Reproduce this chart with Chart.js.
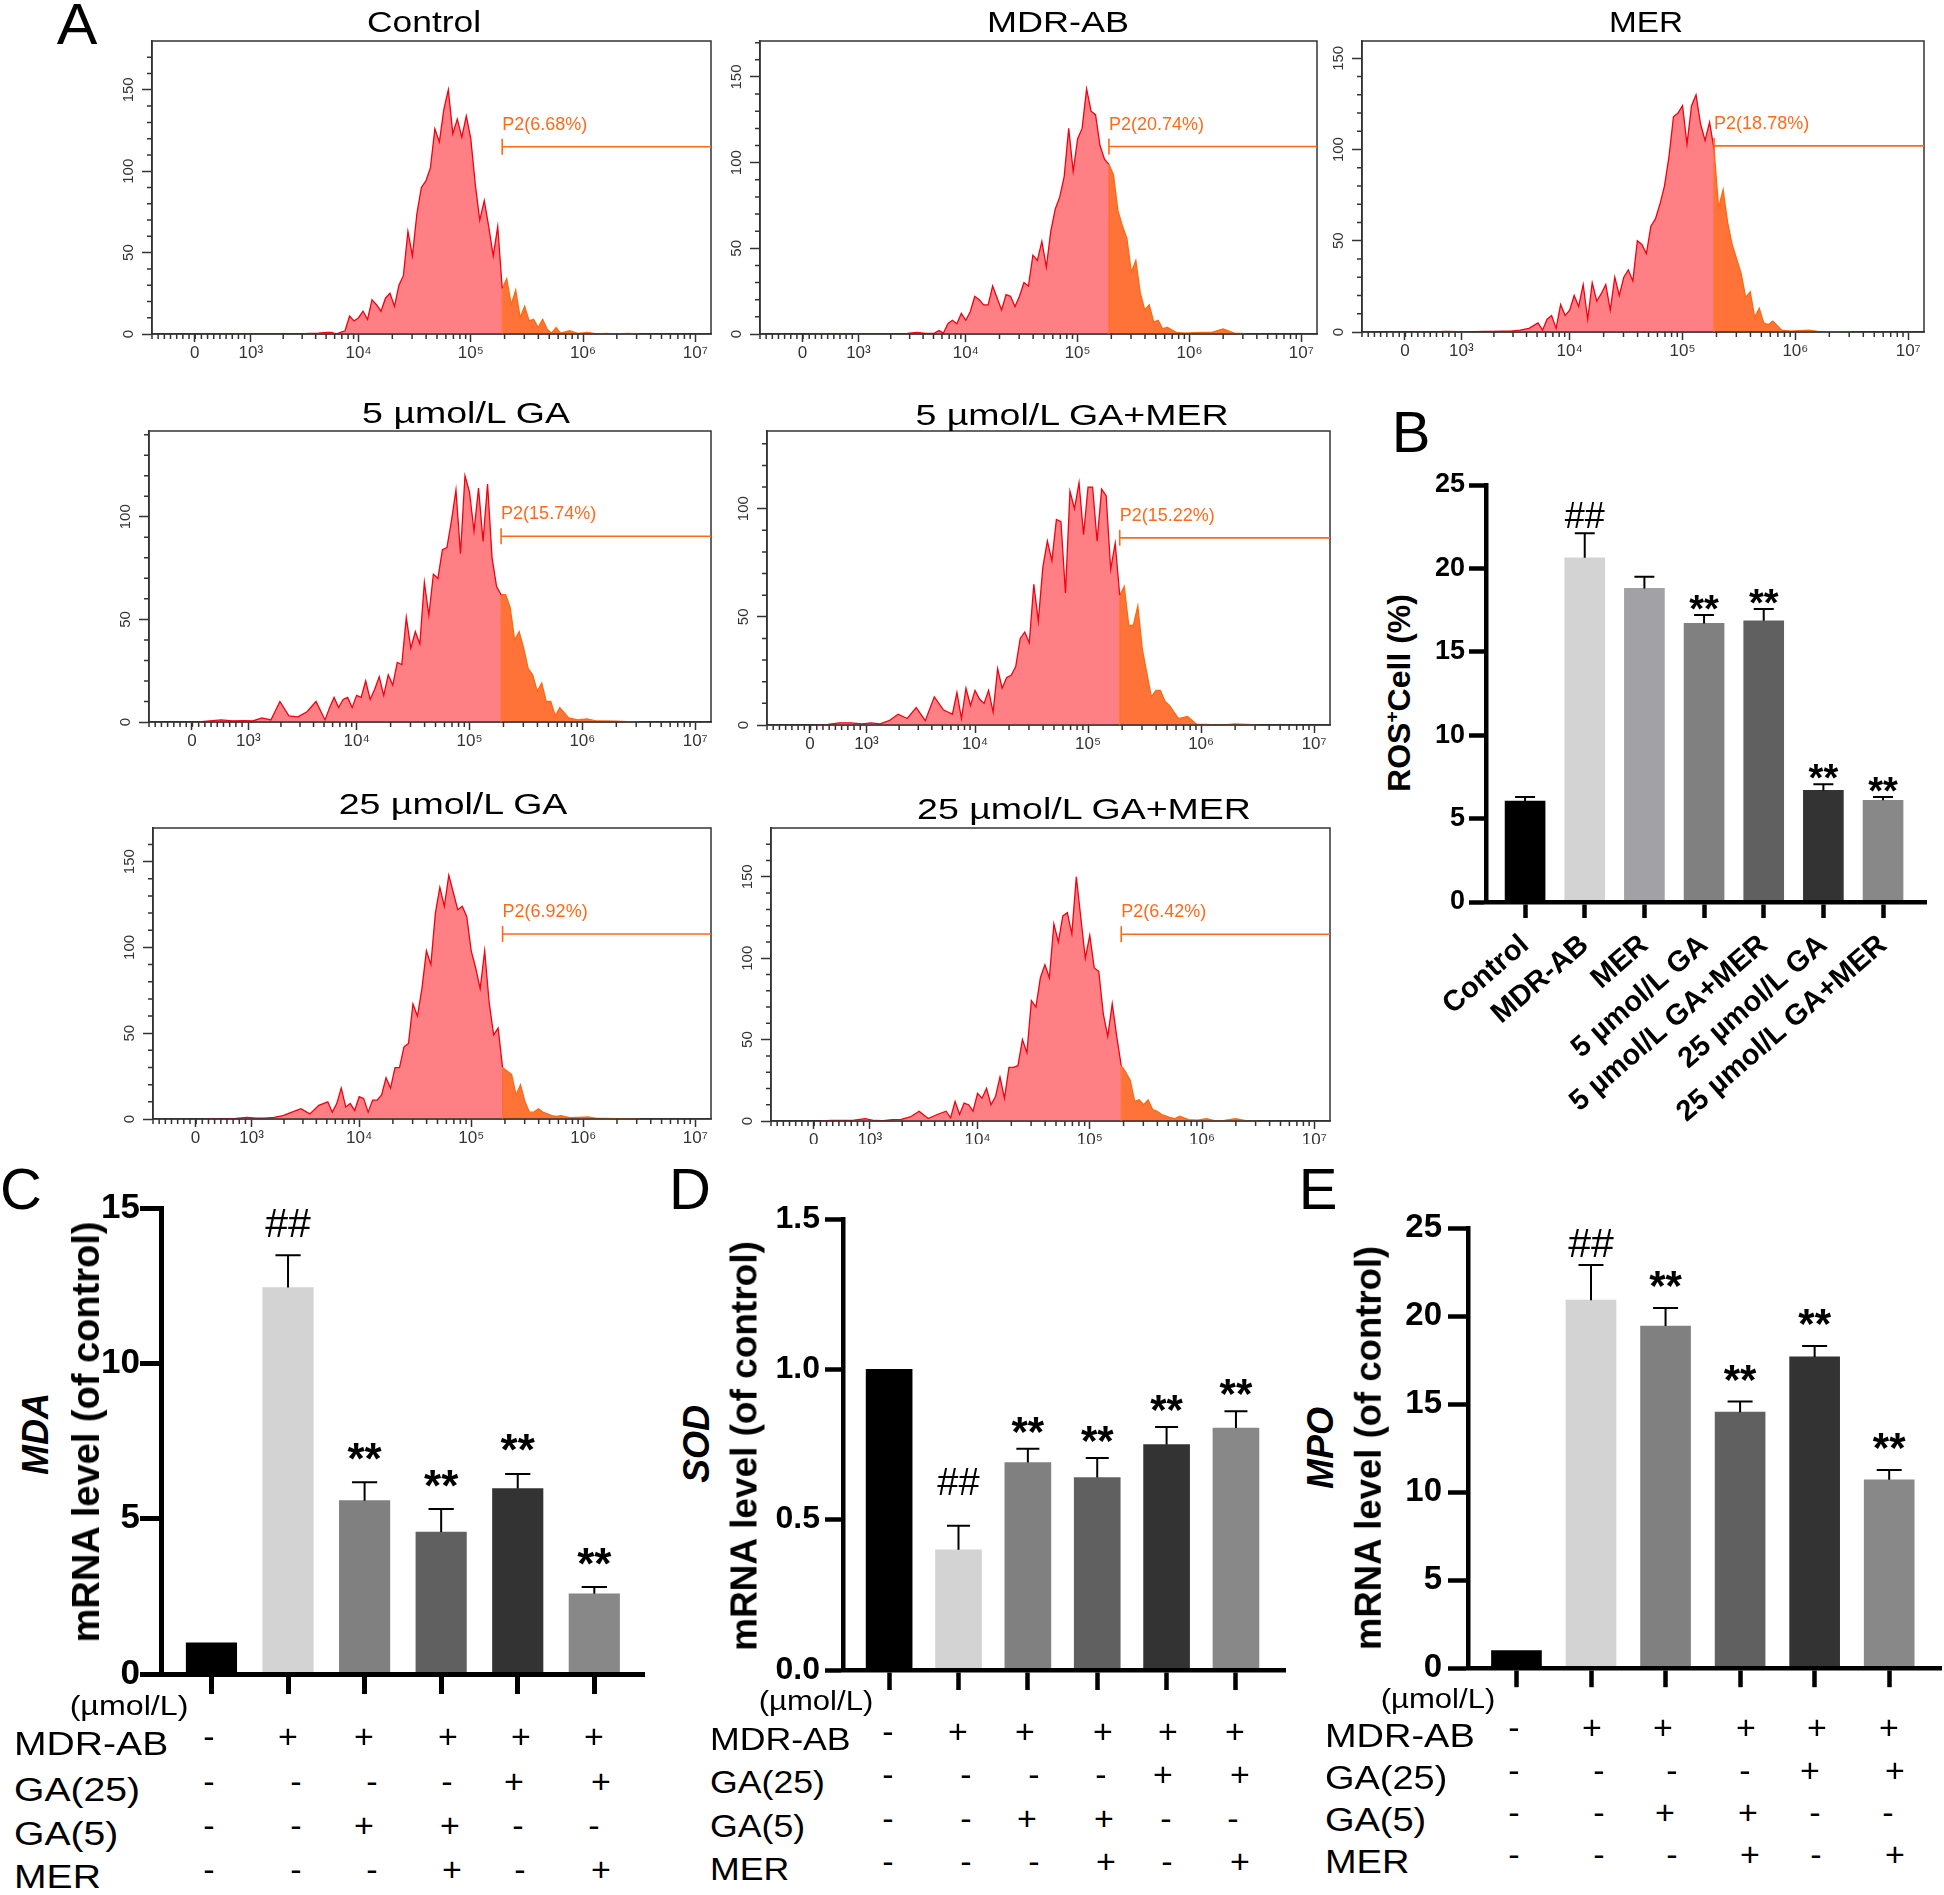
<!DOCTYPE html>
<html>
<head>
<meta charset="utf-8">
<title>ROS and mRNA levels</title>
<script src="https://cdn.jsdelivr.net/npm/chart.js@4"></script>
<style>
  html, body { margin: 0; padding: 0; background: #fff; }
  #page { position: relative; width: 1944px; height: 1895px; overflow: hidden; background: #fff; }
  #page canvas { position: absolute; }
  .txt { position: absolute; white-space: nowrap; line-height: 1; color: #000; font-family: "Liberation Sans", Arial, sans-serif; }
  .txt sup { font-size: 60%; line-height: 0; }
</style>
</head>
<body>
<div id="page"></div>
<script>
// flow cytometry channels, position in decades on the biexponential axis
var logBins = [2.6,2.7,2.8,2.9,3.0,3.08,3.16,3.24,3.32,3.4,3.48,3.56,3.64,3.72,
  3.76,3.8,3.84,3.88,3.92,3.96,
  4.0,4.04,4.08,4.12,4.16,4.2,4.24,4.28,4.32,4.36,
  4.4,4.44,4.48,4.52,4.56,4.6,4.64,4.68,4.72,4.76,
  4.8,4.84,4.88,4.92,4.96,5.0,5.04,5.08,5.12,5.16,
  5.2,5.24,5.28,5.32,5.36,5.4,5.44,5.48,5.52,5.56,
  5.6,5.64,5.68,5.72,5.76,5.8,
  5.88,5.96,6.04,6.12,6.2,6.3,6.4,6.5];

var controlCounts = [0,0,0,0,0,0,0,0,0,0,0,0.3,0.5,1,
  1,0,1,2,11,8,
  10,14,9,21,18,14,22,25,17,30,
  36,63,48,74,90,94,102,126,118,138,
  150,123,132,121,134,120,92,70,82,66,
  48,66,28,34,18,27,10,17,8,9,
  4,9,3,0.5,4,0.5,
  2,0.3,1,0,0.3,0,0.3,0];
var mdrCounts = [0,0,0,0,0,0,0,0,0,0,0.3,1,0.3,0.5,
  2,0.5,6,8,6,12,
  8,13,22,20,17,17,28,21,14,23,
  22,16,22,30,28,46,43,54,39,60,
  73,80,92,120,95,114,120,143,130,128,
  110,102,99,93,72,63,56,36,43,24,
  14,17,7,8,3,4,
  1,0.5,0.8,1,1,3,0.5,0.2];
var merCounts = [0,0,0,0.3,0.2,0,0.2,0.3,0.3,0.5,0.5,1,2,5,
  1,7,9,2,15,9,
  12,20,14,26,7,27,17,21,26,12,
  30,20,30,34,28,50,48,43,58,62,
  70,80,96,118,120,124,103,124,130,114,
  105,115,100,68,78,60,48,40,32,19,
  22,8,13,5,4,6,
  1,0.5,0.8,1,0.3,0.2,0.2,0.1];
var ga5Counts = [0,0.5,1,0.5,0.7,0.5,2,1,10,3,2.5,5,10,1,
  7,12,7,11,12,7,
  13,12,20,11,16,22,13,23,18,29,
  28,51,36,44,38,68,52,72,70,84,
  85,98,113,82,120,112,93,114,88,116,
  80,66,62,62,56,40,44,36,26,23,
  15,19,10,10,3,7,
  2,1,1.5,0.5,0.5,0.4,0.2,0.1];
var ga5MerCounts = [0,0.3,1,1,0.5,1,0.5,2,5,3,8,2,13,7,
  6,5,15,3,17,9,
  16,12,10,16,6,26,17,22,23,27,
  40,43,38,65,48,73,85,76,95,94,
  61,108,100,112,88,110,110,85,109,106,
  72,84,60,64,46,46,55,35,24,13,
  16,16,11,9,6,3,
  4,0.3,0.3,0,0,0.5,0.3,0];
var ga25Counts = [0,0,0,0.3,1,0.5,0.5,1,2,4,6,3,8,10,
  4,9,18,7,9,5,
  13,12,4,11,11,14,24,18,30,30,
  42,44,67,60,76,98,90,120,135,124,
  142,132,122,124,118,98,88,76,98,68,
  49,53,30,28,26,14,20,10,4,4,
  6,4,3,2,1.5,2,
  0.8,1,1.2,0.3,0.3,0.2,0.2,0.1];
var ga25MerCounts = [0,0.3,0.3,0.5,1.5,0.3,0.2,0.8,1,2.5,6,1.5,4,6,
  2,12,4,11,10,6,
  17,14,20,10,15,27,14,33,33,34,
  50,42,74,70,88,96,88,121,110,126,
  128,115,150,125,100,114,94,92,66,52,
  72,52,34,30,25,12,13,10,13,7,
  6,4,3,2,1.5,3,
  0.8,0.5,1.5,0,0.3,1.5,0,0];

var histTitles = ["Control", "MDR-AB", "MER", "5 µmol/L GA", "5 µmol/L GA+MER", "25 µmol/L GA", "25 µmol/L GA+MER"];
var histCounts = [controlCounts, mdrCounts, merCounts, ga5Counts, ga5MerCounts, ga25Counts, ga25MerCounts];
var gateLabels = ["P2(6.68%)", "P2(20.74%)", "P2(18.78%)", "P2(15.74%)", "P2(15.22%)", "P2(6.92%)", "P2(6.42%)"];
var gateHeights = [115, 109.4, 102, 90.5, 86.5, 107.8, 114.7];
var histYMax = [180, 171, 159.5, 141.8, 135.9, 169.6, 180];
var histYTicks = [[0,50,100,150], [0,50,100,150], [0,50,100,150], [0,50,100], [0,50,100], [0,50,100,150], [0,50,100,150]];
var xTickValues = [2.54, 3.04, 4, 5, 6, 7];
var xTickLabels = ["0", "10³", "10⁴", "10⁵", "10⁶", "10⁷"];
var gateDecade = 5.28;

// bar panels
var rosLabels = ["Control", "MDR-AB", "MER", "5 µmol/L GA", "5 µmol/L GA+MER", "25 µmol/L GA", "25 µmol/L GA+MER"];
var rosValues = [6.05, 20.64, 18.8, 16.7, 16.86, 6.69, 6.1];
var rosErrors = [0.25, 1.46, 0.7, 0.5, 0.7, 0.37, 0.2];
var rosMarks = ["", "##", "", "**", "**", "**", "**"];
var rosColors = ["#000000", "#d3d3d3", "#a1a1a6", "#808080", "#606060", "#333333", "#888888"];

var mdaValues = [1, 12.44, 5.58, 4.57, 5.97, 2.58];
var mdaErrors = [0, 1.04, 0.59, 0.74, 0.47, 0.22];
var sodValues = [1, 0.4, 0.69, 0.64, 0.75, 0.805];
var sodErrors = [0, 0.08, 0.046, 0.065, 0.058, 0.056];
var mpoValues = [1, 20.9, 19.43, 14.54, 17.68, 10.7];
var mpoErrors = [0, 2.0, 1.02, 0.61, 0.62, 0.56];
var mrnaMarks = ["", "##", "**", "**", "**", "**"];
var mrnaColors = ["#000000", "#d3d3d3", "#808080", "#606060", "#333333", "#888888"];

// treatment table under panels C, D, E
var rowNames = ["MDR-AB", "GA(25)", "GA(5)", "MER"];
var mdrRow = ["-", "+", "+", "+", "+", "+"];
var ga25Row = ["-", "-", "-", "-", "+", "+"];
var ga5Row = ["-", "-", "+", "+", "-", "-"];
var merRow = ["-", "-", "-", "+", "-", "+"];
var treatmentRows = [mdrRow, ga25Row, ga5Row, merRow];

var FONT = '"Liberation Sans", Arial, sans-serif';
var page = document.getElementById("page");

function putText(html, x, y, size, opts) {
  opts = opts || {};
  var d = document.createElement("div");
  d.className = "txt";
  d.innerHTML = html;
  d.style.left = x + "px";
  d.style.top = y + "px";
  d.style.fontSize = size + "px";
  if (opts.weight) d.style.fontWeight = opts.weight;
  if (opts.italic) d.style.fontStyle = "italic";
  var tx = opts.left ? "translate(0,-50%)" : "translate(-50%,-50%)";
  d.style.transformOrigin = opts.left ? "0 50%" : "50% 50%";
  d.style.transform = tx + (opts.rotate ? " rotate(" + opts.rotate + "deg)" : "") + " scaleX(" + (opts.sx || 1) + ")";
  page.appendChild(d);
}

function addCanvas(left, top, w, h) {
  var c = document.createElement("canvas");
  c.width = w;
  c.height = h;
  c.style.left = left + "px";
  c.style.top = top + "px";
  c.style.width = w + "px";
  c.style.height = h + "px";
  page.appendChild(c);
  return c.getContext("2d");
}

// log spaced minor ticks, plus the linear part below 10^3
var minorX = [];
for (var t = 2.16; t < 3.04; t += 0.055) minorX.push(t);
[3, 4, 5, 6].forEach(function(d) {
  for (var k = 2; k < 10; k++) {
    if (d === 3) minorX.push(3.04 + Math.log10(k) * 0.96);
    else minorX.push(d + Math.log10(k));
  }
});

var flowPlugin = {
  id: "flowPlugin",
  afterDraw: function(chart, args, o) {
    var ctx = chart.ctx, a = chart.chartArea;
    var xs = chart.scales.x, ys = chart.scales.y;
    ctx.save();
    ctx.strokeStyle = "#333";
    ctx.lineWidth = 1.5;
    ctx.strokeRect(a.left, a.top, a.right - a.left, a.bottom - a.top);
    ctx.beginPath();
    minorX.forEach(function(v) {
      var px = xs.getPixelForValue(v);
      ctx.moveTo(px, a.bottom);
      ctx.lineTo(px, a.bottom + 5);
    });
    for (var v = 10; v < ys.max; v += 10) {
      if (v % 50 === 0) continue;
      var py = ys.getPixelForValue(v);
      ctx.moveTo(a.left, py);
      ctx.lineTo(a.left - 5, py);
    }
    ctx.stroke();
    // P2 gate
    var gx = xs.getPixelForValue(gateDecade);
    var gy = ys.getPixelForValue(o.height);
    ctx.strokeStyle = "#ff6a1a";
    ctx.lineWidth = 1.6;
    ctx.beginPath();
    ctx.moveTo(gx, gy);
    ctx.lineTo(a.right, gy);
    ctx.moveTo(gx, gy - 8);
    ctx.lineTo(gx, gy + 8);
    ctx.stroke();
    ctx.lineWidth = 1;
    ctx.beginPath();
    ctx.moveTo(gx, a.bottom);
    ctx.lineTo(gx, ys.getPixelForValue(o.atGate));
    ctx.stroke();
    ctx.fillStyle = "#ff6a1a";
    ctx.font = "18px " + FONT;
    ctx.textBaseline = "alphabetic";
    ctx.fillText(o.label, gx, gy - 17);
    ctx.restore();
  }
};

function drawHist(i, box, bottomH) {
  var left = box[0] - 45, top = box[2] - 20;
  var ctx = addCanvas(left, top, box[1] + 15 - left, box[3] + bottomH - top);
  var counts = histCounts[i];
  var points = logBins.map(function(b, k) { return { x: b, y: counts[k] }; });
  new Chart(ctx, {
    type: "line",
    data: {
      datasets: [
        {
          data: points.filter(function(p) { return p.x <= gateDecade; }),
          borderColor: "#f5000f",
          backgroundColor: "#ff8084",
          borderWidth: 1.3,
          pointRadius: 0,
          fill: "origin"
        },
        {
          data: points.filter(function(p) { return p.x >= gateDecade; }),
          borderColor: "#ff6a0d",
          backgroundColor: "#ff7238",
          borderWidth: 1.3,
          pointRadius: 0,
          fill: "origin"
        }
      ]
    },
    options: {
      responsive: false,
      animation: false,
      layout: { padding: { top: 20, right: 15 } },
      plugins: {
        legend: { display: false },
        tooltip: { enabled: false },
        flowPlugin: {
          height: gateHeights[i],
          label: gateLabels[i],
          atGate: counts[logBins.indexOf(gateDecade)]
        }
      },
      scales: {
        x: {
          type: "linear",
          min: 2.16,
          max: 7.14,
          afterFit: function(s) { s.height = bottomH; },
          afterBuildTicks: function(s) {
            s.ticks = xTickValues.map(function(v) { return { value: v }; });
          },
          border: { color: "#333", width: 1.5 },
          grid: { drawOnChartArea: false, tickLength: 8, tickColor: "#333", tickWidth: 1.5 },
          ticks: {
            autoSkip: false,
            maxRotation: 0,
            padding: 1,
            color: "#333",
            font: { family: FONT, size: 17 },
            callback: function(v, k) { return xTickLabels[k]; }
          }
        },
        y: {
          min: 0,
          max: histYMax[i],
          afterFit: function(s) { s.width = 45; },
          afterBuildTicks: function(s) {
            s.ticks = histYTicks[i].map(function(v) { return { value: v }; });
          },
          border: { color: "#333", width: 1.5 },
          grid: { drawOnChartArea: false, tickLength: 10, tickColor: "#333", tickWidth: 1.5 },
          ticks: {
            autoSkip: false,
            minRotation: 90,
            maxRotation: 90,
            crossAlign: "center",
            padding: 1,
            color: "#333",
            font: { family: FONT, size: 15 }
          }
        }
      }
    },
    plugins: [flowPlugin]
  });
}

var errorPlugin = {
  id: "errorPlugin",
  afterDatasetsDraw: function(chart, args, o) {
    var ctx = chart.ctx, ys = chart.scales.y;
    var bars = chart.getDatasetMeta(0).data;
    ctx.save();
    ctx.strokeStyle = "#000";
    ctx.fillStyle = "#000";
    ctx.lineWidth = 2;
    ctx.textAlign = "center";
    ctx.textBaseline = "alphabetic";
    bars.forEach(function(bar, k) {
      var topV = o.values[k] + o.errors[k];
      var py = ys.getPixelForValue(topV);
      if (o.errors[k] > 0) {
        ctx.beginPath();
        ctx.moveTo(bar.x, ys.getPixelForValue(o.values[k]));
        ctx.lineTo(bar.x, py);
        ctx.moveTo(bar.x - o.cap, py);
        ctx.lineTo(bar.x + o.cap, py);
        ctx.stroke();
      }
      if (o.marks[k] === "##") {
        ctx.font = o.hashSize + "px " + FONT;
        ctx.fillText("##", bar.x, py - o.hashGap + o.hashSize * 0.36);
      } else if (o.marks[k] === "**") {
        ctx.font = "bold " + o.starSize + "px " + FONT;
        ctx.fillText("**", bar.x, py - o.starGap + o.starSize * 0.58);
      }
    });
    ctx.restore();
  }
};

function drawBars(p) {
  var left = p.axisX - p.leftW, top = p.top - 30;
  var ctx = addCanvas(left, top, p.right + p.padR - left, p.base + p.bottomH - top);
  new Chart(ctx, {
    type: "bar",
    data: {
      datasets: [{
        data: p.values.map(function(v, k) { return { x: k, y: v }; }),
        backgroundColor: p.colors,
        barThickness: p.barW
      }]
    },
    options: {
      responsive: false,
      animation: false,
      layout: { padding: { top: 30, right: p.padR } },
      plugins: {
        legend: { display: false },
        tooltip: { enabled: false },
        errorPlugin: {
          values: p.values, errors: p.errors, marks: p.marks, cap: p.barW / 4,
          hashSize: p.hashSize, starSize: p.starSize, hashGap: p.hashGap, starGap: p.starGap
        }
      },
      scales: {
        x: {
          type: "linear",
          offset: false,
          min: p.xMin,
          max: p.xMax,
          afterFit: function(s) { s.height = p.bottomH; },
          afterBuildTicks: function(s) {
            s.ticks = p.values.map(function(v, k) { return { value: k }; });
          },
          border: { color: "#000", width: p.axisW, z: 2 },
          grid: { offset: false, drawOnChartArea: false, tickLength: p.tickX, tickColor: "#000", tickWidth: p.axisW, z: 1 },
          ticks: {
            display: !!p.labels,
            autoSkip: false,
            minRotation: p.labels ? 41 : 0,
            maxRotation: p.labels ? 41 : 0,
            padding: 10,
            color: "#000",
            font: { family: FONT, size: 29, weight: "bold" },
            callback: function(v, k) { return p.labels ? p.labels[k] : ""; }
          }
        },
        y: {
          min: 0,
          max: p.yMax,
          afterFit: function(s) { s.width = p.leftW; },
          afterBuildTicks: function(s) {
            var list = [];
            for (var k = 0; k <= p.yTickCount; k++) list.push({ value: k * p.yMax / p.yTickCount });
            s.ticks = list;
          },
          border: { color: "#000", width: p.axisW, z: 2 },
          grid: { drawOnChartArea: false, tickLength: p.tickY, tickColor: "#000", tickWidth: p.axisW, z: 1 },
          ticks: {
            autoSkip: false,
            padding: p.tickPad,
            color: "#000",
            font: { family: FONT, size: p.tickSize, weight: "bold" },
            callback: function(v) { return p.yDigits ? v.toFixed(p.yDigits) : String(v); }
          }
        }
      }
    },
    plugins: [errorPlugin]
  });
}

function drawTable(labelX, labelYs, labelSize, unitX, unitY, unitSize, signXs, signYs) {
  putText("(µmol/L)", unitX, unitY, unitSize, { sx: 1.15 });
  rowNames.forEach(function(name, r) {
    putText(name, labelX, labelYs[r], labelSize, { left: true, sx: 1.15 });
    treatmentRows[r].forEach(function(sign, c) {
      putText(sign, signXs[r][c], signYs[r], 34);
    });
  });
}

// panel A
var histBoxes = [
  [152, 711, 41, 334], [760, 1317, 41, 334], [1362, 1924, 41, 332],
  [149, 711, 431, 722], [767, 1330, 431, 725],
  [153, 711, 828, 1119], [771, 1330, 828, 1121]
];
var histBottoms = [30, 30, 30, 30, 30, 30, 23];
histBoxes.forEach(function(box, i) { drawHist(i, box, histBottoms[i]); });

var titleSpots = [[424, 22, 1.18], [1058, 22, 1.2], [1646, 22, 1.11], [466, 413, 1.25], [1072, 415, 1.25], [453, 804, 1.25], [1084, 809, 1.25]];
histTitles.forEach(function(t, i) {
  putText(t, titleSpots[i][0], titleSpots[i][1], 30, { sx: titleSpots[i][2] });
});

// panel B
drawBars({
  values: rosValues, errors: rosErrors, marks: rosMarks, colors: rosColors, labels: rosLabels,
  axisX: 1486, right: 1926, top: 485, base: 902, leftW: 66, bottomH: 268, padR: 18,
  xMin: -0.655, xMax: 6.72, barW: 40, axisW: 4.5, tickX: 16, tickY: 17,
  yMax: 25, yTickCount: 5, tickSize: 27, tickPad: 4,
  hashSize: 36, starSize: 38, hashGap: 18, starGap: 15
});
putText("ROS<sup>+</sup>Cell (%)", 1399, 693, 32, { rotate: -90, weight: "bold" });

// panel C
drawBars({
  values: mdaValues, errors: mdaErrors, marks: mrnaMarks, colors: mrnaColors,
  axisX: 161, right: 644, top: 1208, base: 1674, leftW: 101, bottomH: 26, padR: 16,
  xMin: -0.659, xMax: 5.649, barW: 50.5, axisW: 5, tickX: 20, tickY: 21,
  yMax: 15, yTickCount: 3, tickSize: 35, tickPad: 0,
  hashSize: 41, starSize: 44, hashGap: 33, starGap: 34
});
putText("MDA", 36, 1434, 36, { rotate: -90, weight: "bold", italic: true });
putText("mRNA level (of control)", 86, 1432, 38, { rotate: -90, weight: "bold" });
drawTable(14, [1743, 1789, 1833, 1876], 34, 129, 1706, 28,
  [[209, 288, 364, 448, 521, 594],
   [209, 296, 372, 447, 514, 601],
   [209, 296, 364, 450, 518, 594],
   [209, 296, 372, 452, 520, 601]],
  [1736, 1781, 1825, 1869]);

// panel D
drawBars({
  values: sodValues, errors: sodErrors, marks: mrnaMarks, colors: mrnaColors,
  axisX: 843, right: 1285, top: 1219, base: 1670, leftW: 83, bottomH: 25, padR: 15,
  xMin: -0.665, xMax: 5.707, barW: 46, axisW: 4.5, tickX: 20, tickY: 18,
  yMax: 1.5, yTickCount: 3, yDigits: 1, tickSize: 32, tickPad: 5,
  hashSize: 38, starSize: 42, hashGap: 44, starGap: 27
});
putText("SOD", 697, 1444, 36, { rotate: -90, weight: "bold", italic: true });
putText("mRNA level (of control)", 744, 1446, 37, { rotate: -90, weight: "bold" });
drawTable(710, [1739, 1782, 1826, 1869], 31, 816, 1701, 27,
  [[888, 958, 1025, 1103, 1168, 1235],
   [888, 966, 1034, 1101, 1163, 1240],
   [888, 966, 1027, 1104, 1166, 1233],
   [888, 966, 1034, 1106, 1167, 1240]],
  [1731, 1774, 1818, 1861]);

// panel E
drawBars({
  values: mpoValues, errors: mpoErrors, marks: mrnaMarks, colors: mrnaColors,
  axisX: 1468, right: 1941, top: 1228, base: 1669, leftW: 83, bottomH: 25, padR: 3,
  xMin: -0.65, xMax: 5.695, barW: 50, axisW: 4.5, tickX: 19, tickY: 20,
  yMax: 25, yTickCount: 5, tickSize: 33, tickPad: 6,
  hashSize: 41, starSize: 42, hashGap: 23, starGap: 32
});
putText("MPO", 1321, 1448, 36, { rotate: -90, weight: "bold", italic: true });
putText("mRNA level (of control)", 1369, 1448, 36.5, { rotate: -90, weight: "bold" });
drawTable(1325, [1735, 1777, 1819, 1861], 33, 1438, 1699, 27,
  [[1514, 1592, 1663, 1746, 1817, 1889],
   [1514, 1599, 1672, 1745, 1810, 1895],
   [1514, 1599, 1665, 1748, 1815, 1888],
   [1514, 1599, 1672, 1750, 1816, 1895]],
  [1727, 1770, 1812, 1854]);

// panel letters
putText("A", 77, 24, 58, { sx: 1.05 });
putText("B", 1411, 432, 58);
putText("C", 21, 1189, 58);
putText("D", 690, 1189, 58);
putText("E", 1318, 1189, 58);
</script>
</body>
</html>
